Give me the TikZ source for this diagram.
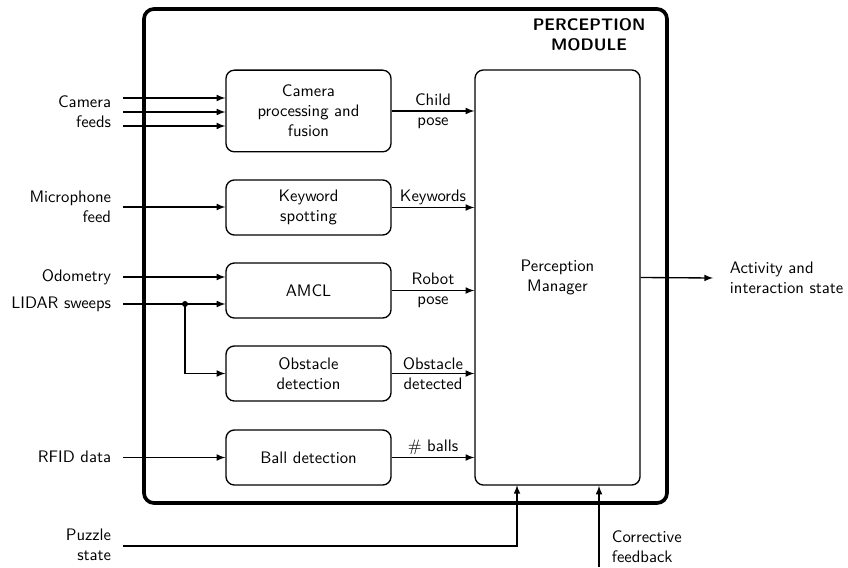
\documentclass[tikz,border=0pt]{standalone}
\usepackage{amsmath}
\usepackage{tikz}
\usetikzlibrary{arrows}

\tikzset{
  procbox/.style={draw,rounded corners=5pt,line width=0.8pt,align=center,minimum width=99pt,minimum height=33pt},
  arr/.style={-latex,line width=0.8pt},
  lbl/.style={align=center,inner sep=1pt}
}

\begin{document}
\begin{tikzpicture}[x=0.6pt,y=-0.6pt,font=\sffamily]
        \useasboundingbox (0,0) rectangle (848,567);
        % module frame
        \draw[line width=2.2pt,rounded corners=6pt] (144,9) rectangle (667,503);
        \node[align=center,font=\sffamily\bfseries](title)at(589,35){PERCEPTION\\MODULE};
        % processing blocks
        \node[procbox,minimum height=49pt](cam)at(308.5,111){Camera\\processing and\\fusion};
        \node[procbox](kws)at(308.5,207.5){Keyword\\spotting};
        \node[procbox](amcl)at(308.5,290.5){AMCL};
        \node[procbox](obs)at(308.5,373.5){Obstacle\\detection};
        \node[procbox](ball)at(308.5,457.5){Ball detection};
        \node[procbox,minimum height=249pt](mgr)at(557.5,277.5){Perception\\Manager};
        % inputs
        \node[align=right,anchor=east](camin)at(117,112){Camera\\feeds};
        \node[align=right,anchor=east](micin)at(117,207){Microphone\\feed};
        \node[anchor=east](odoin)at(117,277){Odometry};
        \node[anchor=east](lidin)at(117,304){LIDAR sweeps};
        \node[anchor=east](rfidin)at(117,457){RFID data};
        \node[align=right,anchor=east](pzin)at(117,545){Puzzle\\state};
        \coordinate(cf1)at(123,98);
        \coordinate(cf2)at(123,112);
        \coordinate(cf3)at(123,126);
        \coordinate(mic)at(123,207);
        \coordinate(odo)at(123,277);
        \coordinate(lid)at(123,304);
        \coordinate(rfid)at(123,457.5);
        \coordinate(pz)at(123,546);
        \coordinate(lj)at(185,304);
        \draw[arr](cf1)--(cf1-|cam.west);
        \draw[arr](cf2)--(cf2-|cam.west);
        \draw[arr](cf3)--(cf3-|cam.west);
        \draw[arr](mic)--(mic-|kws.west);
        \draw[arr](odo)--(odo-|amcl.west);
        \draw[arr](lid)--(lid-|amcl.west);
        \fill(lj)circle(3);
        \draw[arr](lj)|-(obs.west);
        \draw[arr](rfid)--(ball.west);
        % outputs to manager
        \draw[arr](cam.east)--(cam.east-|mgr.west) node[lbl,midway]{Child\\pose};
        \draw[arr](kws.east)--(kws.east-|mgr.west) node[lbl,midway,above]{Keywords};
        \draw[arr](amcl.east)--(amcl.east-|mgr.west) node[lbl,midway]{Robot\\pose};
        \draw[arr](obs.east)--(obs.east-|mgr.west) node[lbl,midway]{Obstacle\\detected};
        \draw[arr](ball.east)--(ball.east-|mgr.west) node[lbl,midway,above]{$\#$ balls};
        % feedback into manager
        \coordinate(pzend)at(517,485);
        \draw[arr](pz)-|(pzend);
        \coordinate(cfb)at(599,567);
        \draw[arr](cfb)--(cfb|-mgr.south);
        \node[align=left,anchor=west](cfbl)at(606,547){Corrective\\feedback};
        % manager output
        \coordinate(act)at(713,278);
        \draw[arr](mgr.east)--(act);
        \node[align=left,anchor=west](actl)at(724,278){Activity and\\interaction state};
\end{tikzpicture}
\end{document}
